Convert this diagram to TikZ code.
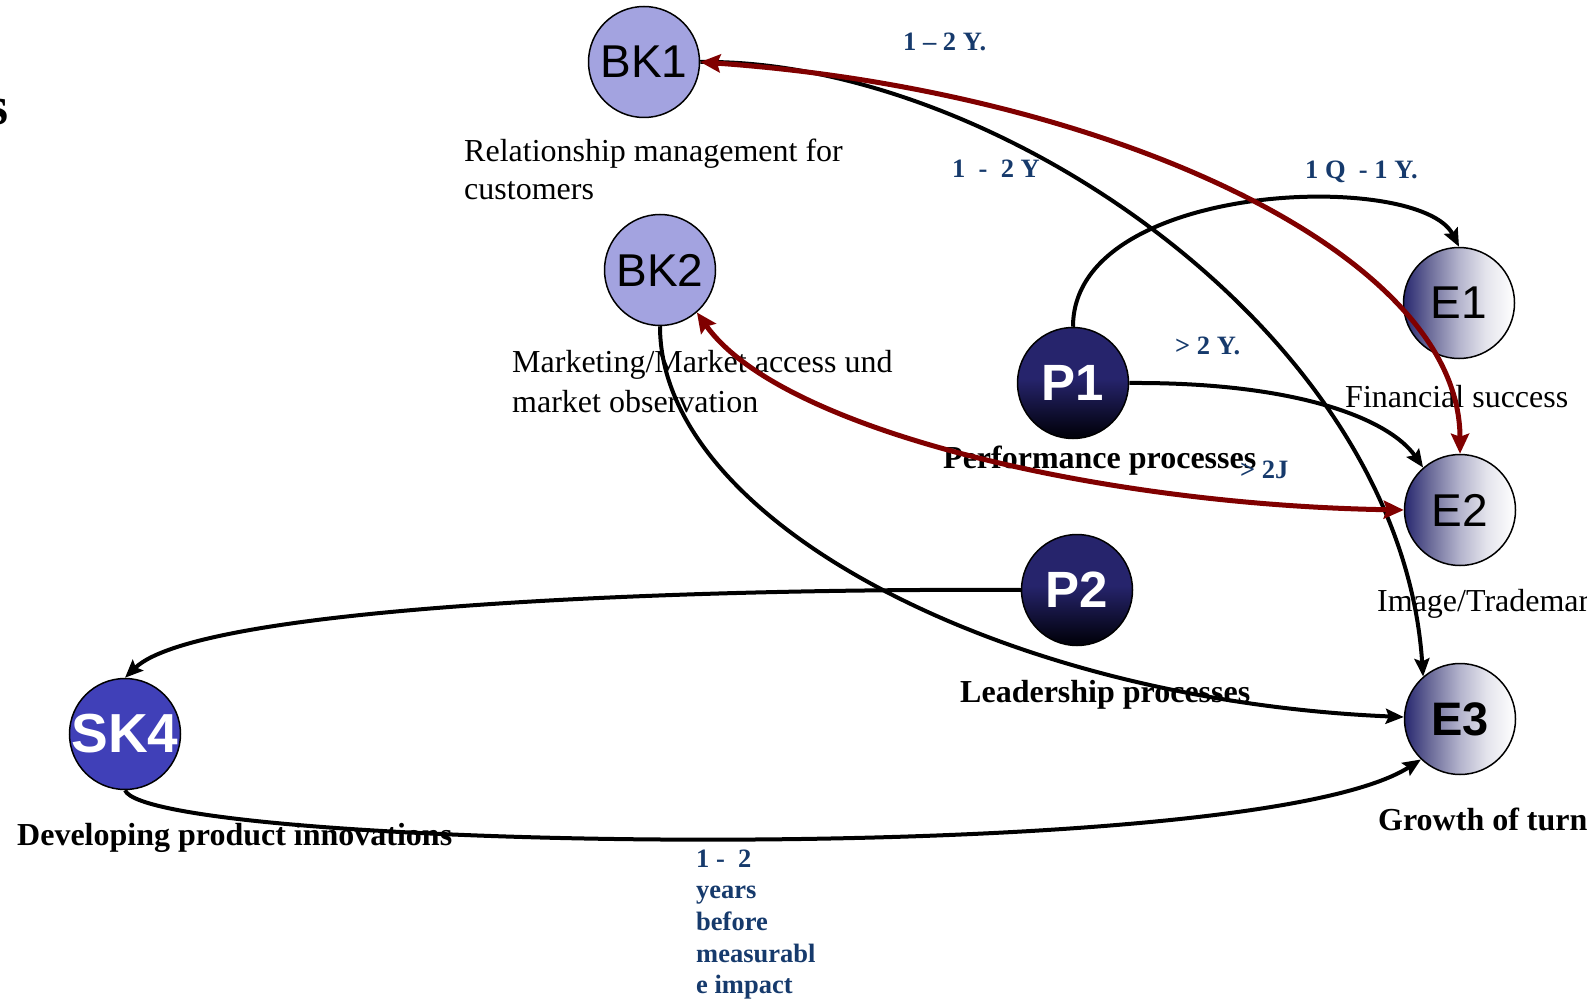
\documentclass[tikz,border=0pt]{standalone}
\usepackage{fontspec}
\setmainfont{Liberation Serif}
\setsansfont{Liberation Sans}
\usetikzlibrary{arrows.meta}

\definecolor{bkfill}{RGB}{163,163,224}
\definecolor{skfill}{RGB}{64,64,184}
\definecolor{ptop}{RGB}{38,36,108}
\definecolor{pbot}{RGB}{2,2,14}
\definecolor{enavy}{RGB}{40,40,112}
\definecolor{emidA}{RGB}{110,110,155}
\definecolor{emidB}{RGB}{180,180,205}
\definecolor{emidC}{RGB}{228,228,236}
\definecolor{linkred}{RGB}{128,0,0}
\definecolor{spanblue}{RGB}{22,58,108}

% dark process discs: navy at the top, almost black at the bottom
\pgfdeclareverticalshading{pshade}{100bp}{color(0bp)=(pbot); color(27bp)=(pbot); color(52bp)=(ptop); color(100bp)=(ptop)}
% result discs: navy on the left fading to white on the right
\pgfdeclarehorizontalshading{eshade}{100bp}{color(0bp)=(enavy); color(25bp)=(enavy); color(37bp)=(emidA); color(50bp)=(emidB); color(62bp)=(emidC); color(75bp)=(white); color(100bp)=(white)}

\newcommand\disclabel[1]{\makebox[0pt]{#1}}

\tikzset{
  disc/.style={circle, draw=black, line width=1.5pt, minimum size=111pt, inner sep=0pt},
  bkdisc/.style={disc, fill=bkfill, font=\sffamily\fontsize{46}{46}\selectfont},
  edisc/.style={disc, shade, shading=eshade, font=\sffamily\fontsize{46}{46}\selectfont},
  pdisc/.style={disc, shade, shading=pshade, text=white, font=\sffamily\bfseries\fontsize{51}{51}\selectfont},
  skdisc/.style={disc, fill=skfill, text=white, font=\sffamily\bfseries\fontsize{55}{55}\selectfont},
  caption/.style={anchor=base west, inner sep=0pt, font=\fontsize{32}{38}\selectfont},
  boldcaption/.style={anchor=base west, inner sep=0pt, font=\bfseries\fontsize{32}{38}\selectfont},
  span/.style={anchor=base west, inner sep=0pt, text=spanblue, font=\bfseries\fontsize{26.5}{31.5}\selectfont},
  link/.style={draw=black, line width=4pt, -{Stealth[length=18pt,width=15pt,inset=3pt]}},
  redlink/.style={draw=linkred, line width=5pt,
    {Stealth[length=20pt,width=18pt,inset=3pt]}-{Stealth[length=20pt,width=18pt,inset=3pt]}},
}

\begin{document}
\begin{tikzpicture}[x=1pt,y=-1pt]
\useasboundingbox (0,0) rectangle (1587,1000);

% captions
\node[anchor=base east, inner sep=0pt, font=\bfseries\fontsize{54}{54}\selectfont] (cutword) at (9,125) {s};
\node[caption] (bkonea) at (464,162) {Relationship management for};
\node[caption] (bkoneb) at (464,200) {customers};
\node[caption] (bktwoa) at (512,372) {Marketing/Market access und};
\node[caption] (bktwob) at (512,412) {market observation};
\node[caption] (eonecap) at (1345,407) {Financial success};
\node[caption] (etwocap) at (1377,611) {Image/Trademark};
\node[boldcaption] (ethreecap) at (1378,830) {Growth of turnover};
\node[boldcaption] (ponecap) at (943,468) {Performance processes};
\node[boldcaption] (ptwocap) at (960,702) {Leadership processes};
\node[boldcaption] (skcap) at (17,845) {Developing product innovations};

% time spans
\node[span] (spanA) at (903,51) {1 -- 2 Y.};
\node[span] (spanB) at (952,178) {1\ \ -\ \ 2 Y};
\node[span] (spanC) at (1305,179) {1 Q\ \ - 1 Y.};
\node[span] (spanD) at (1175,354) {> 2 Y.};
\node[span] (spanE) at (1240,478) {> 2J};
\node[span] (spanFa) at (696,867) {1 -\ \ 2};
\node[span] (spanFb) at (696,898) {years};
\node[span] (spanFc) at (696,930) {before};
\node[span] (spanFd) at (696,962) {measurabl};
\node[span] (spanFe) at (696,993) {e impact};

% discs
\node[bkdisc] (bk1) at (644,62) {\disclabel{BK1}};
\node[bkdisc] (bk2) at (660,270) {\disclabel{BK2}};
\node[pdisc] (p1) at (1073,383) {\disclabel{P1}};
\node[pdisc] (p2) at (1077,590) {\disclabel{P2}};
\node[skdisc] (sk4) at (125,734) {\disclabel{SK4}};
\node[edisc] (e1) at (1459,303) {\disclabel{E1}};
\node[edisc] (e2) at (1460,510) {\disclabel{E2}};
\node[edisc, font=\sffamily\bfseries\fontsize{47}{47}\selectfont] (e3) at (1460,719) {\disclabel{E3}};

% effect links
\draw[link] (bk1.east) .. controls (990,58) and (1400,330) .. (e3.131);
\draw[link] (bk2.south) .. controls (660,520) and (1000,700) .. (e3.178);
\draw[link] (p1.north) .. controls (1073,180) and (1420,170) .. (e1.north);
\draw[link] (p1.east) .. controls (1300,382) and (1390,420) .. (e2.131);
\draw[link] (p2.west) .. controls (700,588) and (200,605) .. (sk4.north);
\draw[link] (sk4.south) .. controls (150,850) and (1250,870) .. (e3.226);
\draw[redlink] (bk1.east) .. controls (1100,90) and (1460,250) .. (e2.north);
\draw[redlink] (bk2.311) .. controls (780,430) and (1100,505) .. (e2.west);
\end{tikzpicture}
\end{document}
